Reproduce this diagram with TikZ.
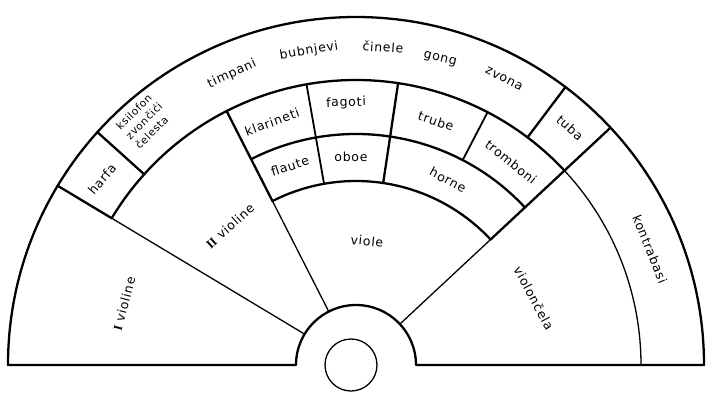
\documentclass[tikz,border=0pt]{standalone}
\usepackage{fontspec}
\setmainfont{DejaVu Sans}[LetterSpace=6]
\newfontfamily\numfont{Liberation Serif}
\begin{document}
\begin{tikzpicture}[x=1pt,y=1pt,
  heavy/.style={line width=2.3pt, line cap=round, line join=round},
  medium/.style={line width=1.8pt, line cap=round},
  light/.style={line width=1.3pt, line cap=round},
  lbl/.style={font=\fontsize{12.5}{14}\selectfont, inner sep=1pt},
  small lbl/.style={font=\fontsize{10.5}{13.5}\selectfont, inner sep=0.5pt}]
\useasboundingbox (-356,-29) rectangle (371,365);
% outer contour with conductor's podium
\draw[heavy] (-348,0) -- (180:60) arc[start angle=180,end angle=0,radius=60]
  -- (348,0) arc[start angle=0,end angle=180,radius=348] -- cycle;
% ring at r=285
\draw[heavy] (43:285) arc[start angle=43,end angle=149,radius=285];
\draw[light] (0:285) arc[start angle=0,end angle=43,radius=285];
% harfa box
\draw[heavy] (149:285) -- (149:348);
\draw[heavy] (138:285) -- (138:348);
% tuba box
\draw[heavy] (53:285) -- (53:348);
\draw[heavy] (43:184) -- (43:348);
% woodwind and brass blocks
\draw[heavy] (43:184) arc[start angle=43,end angle=117,radius=184];
\draw[heavy] (43:231) arc[start angle=43,end angle=117,radius=231];
\draw[heavy] (117:184) -- (117:285);
\draw[medium] (100:184) -- (100:285);
\draw[heavy] (81.5:184) -- (81.5:285);
\draw[medium] (62.5:231) -- (62.5:285);
% string dividers
\draw[light] (149:60) -- (149:285);
\draw[light] (117:60) -- (117:184);
\draw[light] (43:60) -- (43:184);
% conductor
\draw[light] (-5,0) circle[radius=26];
% labels
\node[lbl, rotate=75] (v1) at (-232,61) {{\numfont\bfseries I} violine};
\node[lbl, rotate=42] (v2) at (-126,139) {{\numfont\bfseries II} violine};
\node[lbl, rotate=50] (harfa) at (-254,186) {harfa};
\node[small lbl, rotate=45, align=left] (ksil) at (-212,244) {ksilofon\\zvončići\\čelesta};
\node[lbl, rotate=25] (timp) at (-124,291) {timpani};
\node[lbl, rotate=9] (bub) at (-47,314) {bubnjevi};
\node[lbl, rotate=-4] (cin) at (27,318) {činele};
\node[lbl, rotate=-14] (gong) at (84,306) {gong};
\node[lbl, rotate=-27] (zvona) at (148,286) {zvona};
\node[lbl, rotate=-42] (tuba) at (214,237) {tuba};
\node[lbl, rotate=20] (klar) at (-84,243) {klarineti};
\node[lbl, rotate=2] (fag) at (-10,262) {fagoti};
\node[lbl, rotate=18] (flaute) at (-66,199) {flaute};
\node[lbl] (oboe) at (-5,208) {oboe};
\node[lbl, rotate=-19] (trube) at (80,244) {trube};
\node[lbl, rotate=-39] (trom) at (155,203) {tromboni};
\node[lbl, rotate=-28] (horne) at (92,185) {horne};
\node[lbl, rotate=-5] (viole) at (11,124) {viole};
\node[lbl, rotate=-62] (vcl) at (178,67) {violončela};
\node[lbl, rotate=-68] (kb) at (294,116) {kontrabasi};
\end{tikzpicture}
\end{document}
